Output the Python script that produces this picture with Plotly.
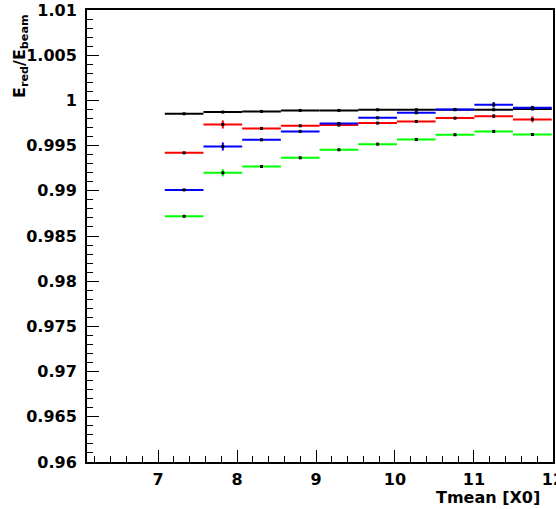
import plotly.graph_objects as go

# bin centres (Tmean [X0]) and half bin width
centers = [7.33, 7.82, 8.31, 8.80, 9.29, 9.78, 10.27, 10.76, 11.25, 11.74]
half_width = [0.245] * 10

black = [0.99852, 0.99871, 0.99878, 0.99889, 0.99889, 0.99897, 0.99897, 0.99897, 0.99897, 0.99905]
red = [0.99420, 0.99734, 0.99690, 0.99719, 0.99727, 0.99749, 0.99767, 0.99804, 0.99826, 0.99790]
blue = [0.99010, 0.99490, 0.99564, 0.99657, 0.99745, 0.99808, 0.99863, 0.99900, 0.99952, 0.99919]
green = [0.98718, 0.99199, 0.99269, 0.99365, 0.99454, 0.99516, 0.99568, 0.99620, 0.99657, 0.99623]

black_err = [0.00005] * 10
red_err = [0.0001, 0.00045, 0.0001, 0.0001, 0.0001, 0.00008, 0.00008, 0.00012, 0.0002, 0.00033]
blue_err = [0.00005, 0.00045, 0.0001, 0.0001, 0.0001, 0.00008, 0.00012, 0.0001, 0.0003, 0.0002]
green_err = [0.0001, 0.0004, 0.0001, 0.0001, 0.00008, 0.00008, 0.00008, 0.0001, 0.00012, 0.0001]

series = [
    ("black", black, black_err, "#000000"),
    ("green", green, green_err, "#00ff00"),
    ("red", red, red_err, "#ff0000"),
    ("blue", blue, blue_err, "#0000ff"),
]

fig = go.Figure()
for name, vals, errs, col in series:
    fig.add_trace(go.Scatter(
        x=centers, y=vals, mode="markers", name=name,
        marker=dict(symbol="square", size=3, color="black"),
        error_x=dict(type="data", array=half_width, symmetric=True,
                     color=col, thickness=2, width=0),
        error_y=dict(type="data", array=errs, symmetric=True,
                     color=col, thickness=2, width=0),
        showlegend=False,
    ))

font_family = "DejaVu Sans"
tickfont = dict(family=font_family, size=16, color="black", weight="bold")

fig.update_layout(
    width=556, height=509,
    margin=dict(l=87, r=3, t=10, b=47, autoexpand=False),
    paper_bgcolor="white", plot_bgcolor="white",
    xaxis=dict(
        range=[6.1, 12.001], tick0=0, dtick=1, ticks="inside", ticklen=12,
        tickwidth=1, tickcolor="black", showgrid=False, zeroline=False,
        showline=True, linecolor="black", linewidth=2, mirror=True,
        tickfont=tickfont, ticklabelstandoff=2, ticklabeloverflow="allow",
        automargin=False,
        minor=dict(dtick=0.2, tick0=0, ticks="inside", ticklen=6, tickcolor="black", tickwidth=1),
    ),
    yaxis=dict(
        range=[0.96, 1.01], tick0=0.96, dtick=0.005, ticks="inside", ticklen=12,
        tickwidth=1, tickcolor="black", showgrid=False, zeroline=False,
        showline=True, linecolor="black", linewidth=2, mirror=True,
        tickfont=tickfont, ticklabelstandoff=5, ticklabeloverflow="allow",
        automargin=False,
        minor=dict(dtick=0.001, tick0=0.96, ticks="inside", ticklen=6, tickcolor="black", tickwidth=1),
    ),
    annotations=[
        dict(text="E<sub>red</sub>/E<sub>beam</sub>", textangle=-90,
             xref="paper", yref="paper", x=0, y=1, xshift=-67, yshift=-2,
             xanchor="center", yanchor="top", showarrow=False,
             font=dict(family=font_family, size=16, color="black", weight="bold")),
        dict(text="Tmean [X0]", xref="paper", yref="paper", x=1, y=0,
             xshift=-11, yshift=-35, xanchor="right", yanchor="middle",
             showarrow=False,
             font=dict(family=font_family, size=16, color="black", weight="bold")),
    ],
)

fig.write_html("out.html")
